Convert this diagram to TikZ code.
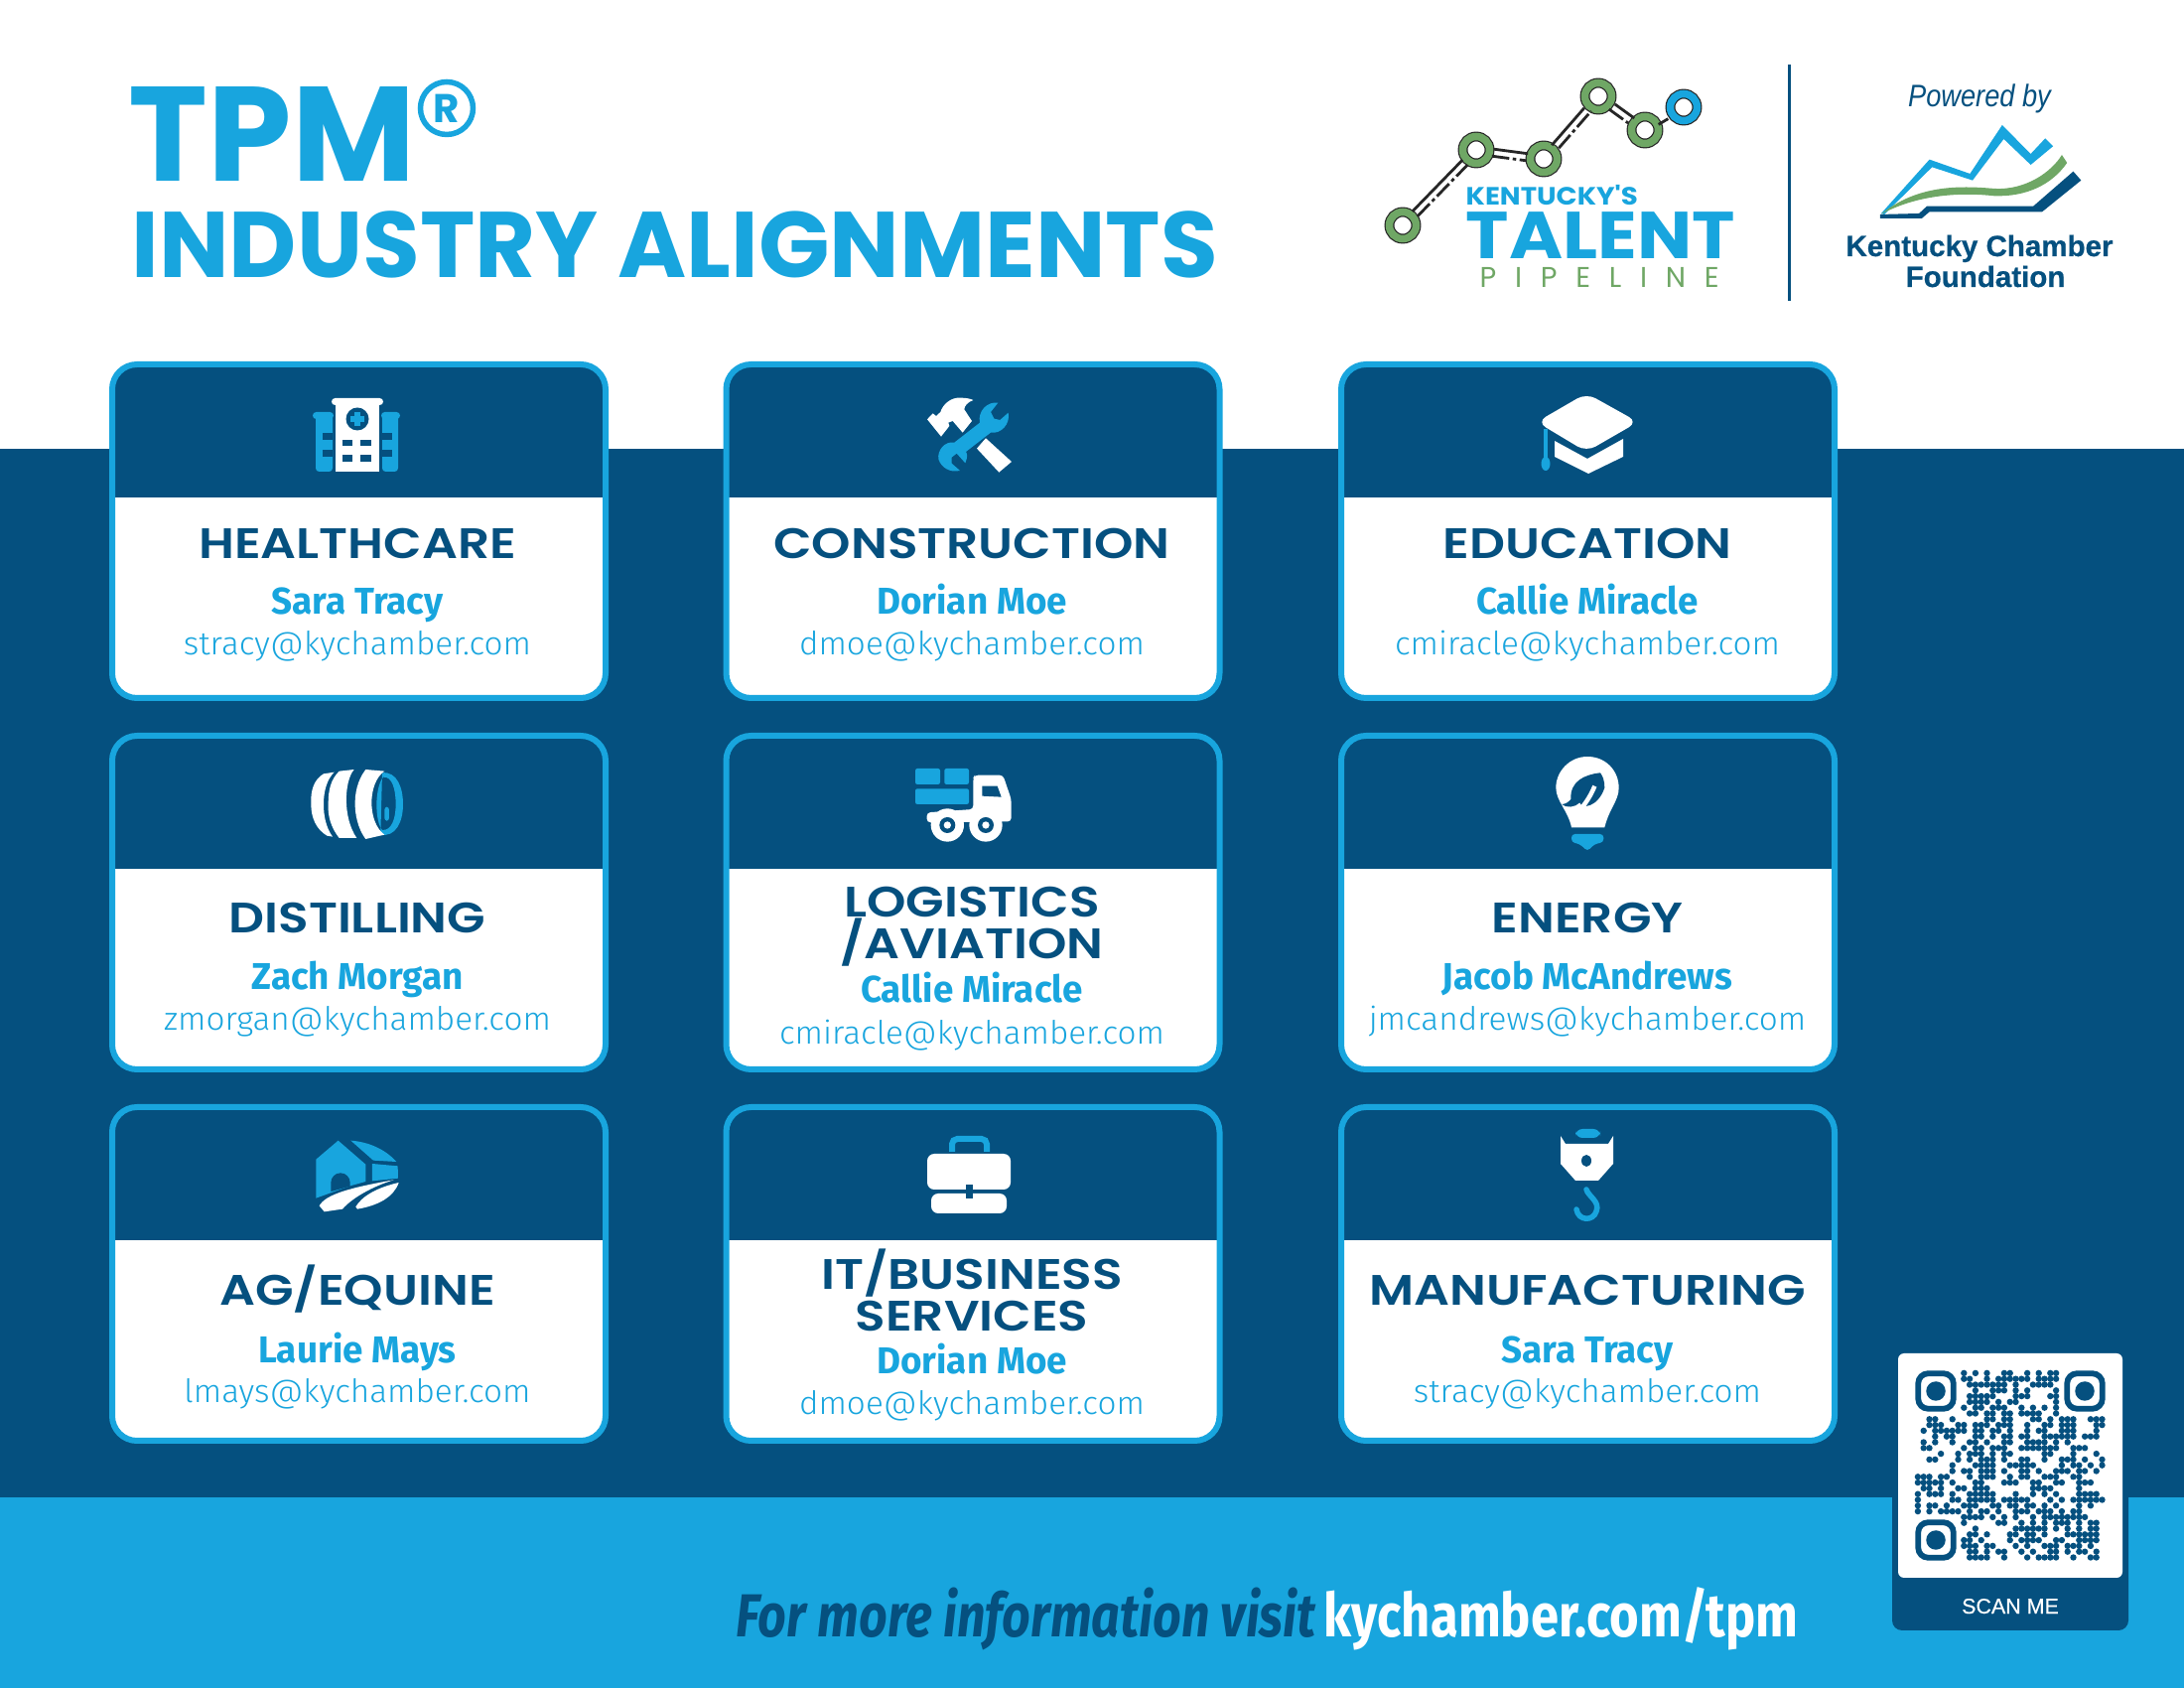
\documentclass[tikz,border=0pt]{standalone}
\usepackage{fontspec}
\setmainfont{Fira Sans}
\newfontfamily\headfont[FakeStretch=1.17]{Poppins SemiBold}
\newfontfamily\bigfont{Poppins}
\newfontfamily\logofont[FakeStretch=1.1]{Poppins}
\newfontfamily\namefont[FakeStretch=0.98]{Fira Sans}
\newfontfamily\mailfont[FakeStretch=1.03]{Fira Sans Light}
\newfontfamily\visitfont[FakeStretch=0.82]{Fira Sans}
\newfontfamily\sitefont[FakeStretch=0.83]{Fira Sans}
\newfontfamily\pipefont[LetterSpace=65]{Poppins}
\newfontfamily\arialfont{Liberation Sans}
\newfontfamily\poweredfont[FakeStretch=0.87]{Liberation Sans}
\newfontfamily\chamberfont[FakeBold=0.6]{Liberation Sans}
\newfontfamily\scanfont[FakeBold=0.3]{Liberation Sans}
\definecolor{navy}{HTML}{05507F}
\definecolor{sky}{HTML}{18A5DE}
\definecolor{leaf}{HTML}{6FA765}
\begin{document}
\begin{tikzpicture}[x=0.1mm,y=-0.1mm,
% common options for the cards:
card/.style = {draw=sky, line width=0.6mm, fill=white, rounded corners=2.5mm,
            minimum width=49.7mm, minimum height=33.6mm, inner sep=0, outer sep=0,
            path picture={\fill[navy,sharp corners] (path picture bounding box.north west)
            rectangle ([yshift=-13.4mm]path picture bounding box.north east);}},
% common options for the card texts:
sector/.style = {anchor=base, inner sep=0, text=navy, font=\headfont\fontsize{12.2}{12.2}\selectfont},
person/.style = {anchor=base, inner sep=0, text=sky, font=\namefont\bfseries\fontsize{10.7}{10.7}\selectfont},
mail/.style = {anchor=base, inner sep=0, text=sky, font=\mailfont\fontsize{9.2}{9.2}\selectfont},
% common options for the logo:
ring/.style = {circle, draw=black!85, line width=0.12mm, double=leaf, double distance=0.75mm,
            fill=white, minimum size=2.7mm, inner sep=0},
link/.style = {draw=black!85, line width=0.28mm, shorten <=1.7mm, shorten >=1.7mm},
linkb/.style = {link, dash pattern=on 5pt off 1pt on 1pt off 1pt},
finder/.style = {draw=navy, line width=0.58mm, rounded corners=1mm, fill=white,
            minimum size=3.55mm, inner sep=0, outer sep=0},
blob/.style = {circle, fill=navy, minimum size=1.95mm, inner sep=0}]
\useasboundingbox (0,0) rectangle (2200,1700);
% background bands
\fill[white] (0,0) rectangle (2200,452);
\fill[navy] (0,452) rectangle (2200,1508);
\fill[sky] (0,1508) rectangle (2200,1700);
% heading
\node[anchor=base west,inner sep=0,text=sky,font=\bigfont\bfseries\fontsize{38.5}{38.5}\selectfont] (tpm) at (129,183) {TPM};
\node[circle,draw=sky,line width=0.55mm,minimum size=5.3mm,inner sep=0,text=sky,font=\bigfont\bfseries\fontsize{11.5}{11.5}\selectfont] (reg) at (450,109) {R};
\node[anchor=base west,inner sep=0,text=sky,font=\bigfont\bfseries\fontsize{26.7}{26.7}\selectfont] (alignments) at (132,280) {INDUSTRY ALIGNMENTS};
% talent pipeline logo
\node[ring] (ringa) at (1413,227) {};
\node[ring] (ringb) at (1487,151) {};
\node[ring] (ringc) at (1555,160) {};
\node[ring] (ringd) at (1610,97) {};
\node[ring] (ringe) at (1657,131) {};
\node[ring,double=sky] (ringf) at (1696,108) {};
\draw[link] ([shift={(-2,-2)}]ringa.center) to ([shift={(-2,-2)}]ringb.center);
\draw[linkb] ([shift={(3,3)}]ringa.center) to ([shift={(3,3)}]ringb.center);
\draw[link] ([shift={(1,-3)}]ringb.center) to ([shift={(1,-3)}]ringc.center);
\draw[linkb] ([shift={(-1,4)}]ringb.center) to ([shift={(-1,4)}]ringc.center);
\draw[link] ([shift={(-3,-1)}]ringc.center) to ([shift={(-3,-1)}]ringd.center);
\draw[linkb] ([shift={(4,2)}]ringc.center) to ([shift={(4,2)}]ringd.center);
\draw[link] ([shift={(3,-2)}]ringd.center) to ([shift={(3,-2)}]ringe.center);
\draw[linkb] ([shift={(-3,3)}]ringd.center) to ([shift={(-3,3)}]ringe.center);
\draw[linkb] ([shift={(-1,3)}]ringe.center) to ([shift={(-1,3)}]ringf.center);
\node[anchor=base west,inner sep=0,text=sky,font=\logofont\bfseries\fontsize{7.16}{7.16}\selectfont] (kentucky) at (1476,207) {KENTUCKY'S};
\node[anchor=base west,inner sep=0,text=sky,font=\logofont\bfseries\fontsize{19}{19}\selectfont] (talent) at (1476,261) {TALENT};
\node[anchor=base west,inner sep=0,text=leaf,font=\pipefont\fontsize{8.2}{8.2}\selectfont] (pipeline) at (1490,290) {PIPELINE};
% divider
\coordinate (divtop) at (1802,65);
\coordinate (divbot) at (1802,303);
\draw[navy,line width=0.3mm] (divtop) to (divbot);
% chamber logo
\node[anchor=base,inner sep=0,text=navy,font=\poweredfont\itshape\fontsize{8.9}{8.9}\selectfont] (powered) at (1994,108) {Powered by};
\begin{scope}[shift={(1350,40)},xscale=0.523,yscale=0.3333]
\fill[sky] (1042,525) -- (1135,362) -- (1213,405) -- (1275,258) -- (1330,345) -- (1358,298) -- (1373,322) -- (1330,378) -- (1278,300) -- (1218,425) -- (1140,385) -- (1048,528) -- cycle;
\fill[leaf] (1042,527) .. controls (1110,440) and (1190,440) .. (1260,450) .. controls (1320,455) and (1370,400) .. (1390,348) -- (1400,372) .. controls (1370,440) and (1320,475) .. (1260,472) .. controls (1190,460) and (1110,470) .. (1042,527) -- cycle;
\fill[navy] (1040,528) -- (1115,525) -- (1130,503) -- (1335,503) -- (1412,398) -- (1427,425) -- (1352,520) -- (1135,520) -- (1120,540) -- (1040,540) -- cycle;
\end{scope}
\node[anchor=base,inner sep=0,text=navy,font=\chamberfont\bfseries\fontsize{8.4}{8.4}\selectfont] (chamber) at (1994,258) {Kentucky Chamber};
\node[anchor=base,inner sep=0,text=navy,font=\chamberfont\bfseries\fontsize{8.4}{8.4}\selectfont] (foundation) at (2000,289) {Foundation};
% cards
\node[card] (cardA) at (361.5,535) {};
\node[card] (cardB) at (980,535) {};
\node[card] (cardC) at (1599.5,535) {};
\node[card] (cardD) at (361.5,909) {};
\node[card] (cardE) at (980,909) {};
\node[card] (cardF) at (1599.5,909) {};
\node[card] (cardG) at (361.5,1283) {};
\node[card] (cardH) at (980,1283) {};
\node[card] (cardI) at (1599.5,1283) {};
\node[sector] (secA) at (360,562.5) {HEALTHCARE};
\node[person] (nameA) at (360,619) {Sara Tracy};
\node[mail] (mailA) at (360,660) {stracy@kychamber.com};
\node[sector] (secB) at (979,562.5) {CONSTRUCTION};
\node[person] (nameB) at (979,619) {Dorian Moe};
\node[mail] (mailB) at (979,660) {dmoe@kychamber.com};
\node[sector] (secC) at (1599,562.5) {EDUCATION};
\node[person] (nameC) at (1599,619) {Callie Miracle};
\node[mail] (mailC) at (1599,660) {cmiracle@kychamber.com};
\node[sector] (secD) at (360,940) {DISTILLING};
\node[person] (nameD) at (360,997) {Zach Morgan};
\node[mail] (mailD) at (360,1038) {zmorgan@kychamber.com};
\node[sector] (secE1) at (979,924) {LOGISTICS};
\node[sector] (secE2) at (979,966) {/AVIATION};
\node[person] (nameE) at (979,1010) {Callie Miracle};
\node[mail] (mailE) at (979,1052) {cmiracle@kychamber.com};
\node[sector] (secF) at (1599,940) {ENERGY};
\node[person] (nameF) at (1599,997) {Jacob McAndrews};
\node[mail] (mailF) at (1599,1038) {jmcandrews@kychamber.com};
\node[sector] (secG) at (360,1315) {AG/EQUINE};
\node[person] (nameG) at (360,1373) {Laurie Mays};
\node[mail] (mailG) at (360,1413) {lmays@kychamber.com};
\node[sector] (secH1) at (979,1299) {IT/BUSINESS};
\node[sector] (secH2) at (979,1341) {SERVICES};
\node[person] (nameH) at (979,1384) {Dorian Moe};
\node[mail] (mailH) at (979,1425) {dmoe@kychamber.com};
\node[sector] (secI) at (1599,1315) {MANUFACTURING};
\node[person] (nameI) at (1599,1373) {Sara Tracy};
\node[mail] (mailI) at (1599,1413) {stracy@kychamber.com};
% hospital icon
\fill[sky,rounded corners=1pt] (318,418) rectangle (335,475);
\fill[sky,rounded corners=1pt] (385,418) rectangle (401,475);
\fill[sky,rounded corners=1pt] (315,415) rectangle (336,422);
\fill[sky,rounded corners=1pt] (384,415) rectangle (403,422);
\fill[navy] (325,436) rectangle (335,443);
\fill[navy] (325,453) rectangle (335,460);
\fill[navy] (385,436) rectangle (395,443);
\fill[navy] (385,453) rectangle (395,460);
\fill[white] (338,405) rectangle (382,475);
\fill[white,rounded corners=1pt] (334,401) rectangle (386,408);
\fill[navy] (360,422) circle (11.5);
\fill[sky] (357,415) rectangle (363,429);
\fill[sky] (353,419) rectangle (367,425);
\fill[navy] (345,443) rectangle (355,449);
\fill[navy] (363,443) rectangle (374,449);
\fill[navy] (345,458) rectangle (355,465);
\fill[navy] (363,458) rectangle (374,465);
% tools icon
\begin{scope}[shift={(918,379)},scale=0.3333]
\fill[white] (48,130) -- (65,112) -- (75,120) -- (88,108) .. controls (95,85) and (120,62) .. (150,65) .. controls (165,65) and (180,68) .. (187,72) .. controls (170,78) and (160,90) .. (160,100) -- (183,135) -- (155,170) -- (125,135) -- (112,140) -- (115,150) -- (90,182) -- cycle;
\fill[white] (225,187) -- (303,258) -- (265,290) -- (198,218) -- cycle;
\fill[sky] (262,80) .. controls (230,75) and (200,105) .. (207,140) -- (130,200) .. controls (100,195) and (78,225) .. (82,250) .. controls (90,275) and (115,292) .. (147,285) -- (122,263) -- (122,245) -- (137,233) -- (163,262) .. controls (170,245) and (170,235) .. (165,228) -- (240,170) .. controls (270,175) and (300,145) .. (293,110) -- (268,132) -- (250,128) -- (240,108) -- cycle;
\end{scope}
% cap icon
\fill[white,rounded corners=3pt] (1598,396) -- (1650,425) -- (1598,455) -- (1548,425) -- cycle;
\fill[white] (1566,444) -- (1599,462) -- (1635,442) -- (1635,460) -- (1600,477) -- (1566,460) -- cycle;
\fill[sky] (1555,432) rectangle (1559,462);
\fill[sky] (1557,467) ellipse (4.5 and 7);
% barrel icon
\begin{scope}[shift={(300,750)},scale=0.3333]
\fill[sky,even odd rule] (255,85) .. controls (300,80) and (318,130) .. (318,180) .. controls (318,235) and (295,280) .. (250,272) -- cycle (258,98) .. controls (232,130) and (232,230) .. (255,258) .. controls (285,260) and (296,220) .. (296,180) .. controls (296,135) and (285,95) .. (258,98) -- cycle;
\fill[sky,rounded corners=0.8pt] (262,188) rectangle (276,230);
\fill[white] (78,88) .. controls (48,105) and (38,140) .. (40,180) .. controls (40,220) and (55,255) .. (88,275) -- (105,278) .. controls (85,250) and (78,215) .. (78,180) .. controls (78,140) and (88,105) .. (110,83) -- cycle;
\fill[white] (125,80) -- (170,75) .. controls (140,110) and (135,220) .. (178,282) -- (125,282) .. controls (100,250) and (90,215) .. (92,180) .. controls (92,135) and (100,105) .. (125,80) -- cycle;
\fill[white] (205,75) -- (262,80) .. controls (210,115) and (210,235) .. (262,272) -- (205,285) .. controls (170,240) and (155,140) .. (205,75) -- cycle;
\end{scope}
% truck icon
\begin{scope}[shift={(912,750)},scale=0.3333]
\fill[sky,rounded corners=0.6pt] (30,72) rectangle (105,120);
\fill[sky,rounded corners=0.6pt] (118,72) rectangle (192,120);
\fill[sky,rounded corners=0.6pt] (30,133) rectangle (192,180);
\fill[white,rounded corners=1pt] (205,100) -- (210,92) -- (295,92) -- (320,165) -- (320,232) -- (65,235) -- (65,205) -- (205,195) -- cycle;
\fill[navy] (232,125) -- (278,125) -- (290,158) -- (232,155) -- cycle;
\fill[white] (127,243) circle (50);
\fill[white] (243,243) circle (50);
\fill[navy] (127,243) circle (24);
\fill[navy] (243,243) circle (24);
\fill[white] (127,243) circle (11);
\fill[white] (243,243) circle (11);
\end{scope}
% bulb icon
\begin{scope}[shift={(1538,750)},scale=0.3333]
\fill[sky,rounded corners=1pt] (135,270) -- (232,270) -- (232,295) -- (205,300) -- (183,322) -- (160,300) -- (135,295) -- cycle;
\fill[white] (183,36) .. controls (240,36) and (278,80) .. (278,130) .. controls (278,170) and (250,190) .. (235,250) -- (135,250) .. controls (125,200) and (88,170) .. (88,130) .. controls (88,80) and (130,36) .. (183,36) -- cycle;
\fill[navy] (222,85) .. controls (175,90) and (130,110) .. (133,165) .. controls (125,175) and (115,180) .. (105,180) .. controls (120,192) and (145,190) .. (160,175) .. controls (165,195) and (215,190) .. (235,130) .. controls (235,110) and (230,95) .. (222,85) -- cycle;
\draw[white,line width=0.45mm] (205,125) .. controls (195,150) and (180,175) .. (160,198);
\end{scope}
% farm icon
\begin{scope}[shift={(300,1126)},scale=0.3333]
\fill[sky] (55,125) -- (122,68) -- (205,140) -- (205,192) -- (158,205) -- (55,242) -- cycle;
\fill[navy] (100,222) -- (100,195) arc (180:360:29) -- (158,206) -- cycle;
\fill[sky] (160,68) .. controls (215,72) and (265,95) .. (298,132) -- (228,128) -- cycle;
\fill[sky] (225,138) -- (302,145) -- (303,182) -- (225,190) -- cycle;
\fill[white] (65,265) .. controls (85,230) and (160,210) .. (290,187) .. controls (230,205) and (165,240) .. (135,275) -- (80,283) -- cycle;
\fill[white] (305,195) .. controls (240,210) and (195,235) .. (175,268) -- (180,275) .. controls (240,265) and (290,240) .. (305,195) -- cycle;
\end{scope}
% briefcase icon
\draw[sky,line width=0.6mm,rounded corners=1.5pt] (959,1160) -- (959,1147) -- (994,1147) -- (994,1160);
\fill[white,rounded corners=2pt] (934,1162) rectangle (1018,1198);
\fill[white,rounded corners=2pt] (938,1202) rectangle (1014,1222);
\fill[navy] (973,1193) rectangle (980,1207);
% hook icon
\fill[sky,rounded corners=2pt] (1587,1137) rectangle (1612,1146);
\fill[white] (1572,1144) -- (1577,1152) -- (1620,1152) -- (1625,1144) -- (1625,1172) -- (1610,1189) -- (1587,1189) -- (1572,1172) -- cycle;
\fill[navy] (1598,1169) ellipse (5 and 6);
\draw[sky,line width=0.55mm,line cap=round] (1598,1198) .. controls (1600,1205) and (1612,1210) .. (1608,1220) .. controls (1605,1230) and (1590,1230) .. (1588,1218);
% qr code
\node[fill=navy,rounded corners=1mm,minimum width=23.8mm,minimum height=28.5mm,inner sep=0] (qrframe) at (2025,1499.5) {};
\node[fill=white,rounded corners=0.6mm,minimum size=22.6mm,inner sep=0] (qrpaper) at (2025,1476) {};
\node[finder] (finderA) at (1950,1401) {};
\node[finder] (finderB) at (2100,1401) {};
\node[finder] (finderC) at (1950,1551) {};
\node[blob] (blobA) at (finderA) {};
\node[blob] (blobB) at (finderB) {};
\node[blob] (blobC) at (finderC) {};
\foreach \r/\cols in {0/{8,10,12,15,16,19,21,23,24},
  1/{8,9,12,14,15,16,17,18,19,21,22,23,24},
  2/{9,10,11,12,13,14,15,17,20,21,22,23},
  3/{10,13,14,15,17,19,24},
  4/{9,10,11,12,13,17,18,19,23,24},
  5/{9,10,11,12,14,16,17,24},
  6/{8,10,11,13,14,15,18,20,22,24},
  7/{9,10,12,13,15,16,18,19,20,21,24},
  8/{2,3,6,12,13,15,16,20,21,23,25,26,27,30,31,32},
  9/{2,3,4,7,8,10,11,12,14,15,16,19,22,23,25,26,27,31,32},
  10/{1,3,4,5,6,7,8,10,11,13,14,16,19,21,22,25,26,27,31},
  11/{3,5,6,10,11,13,15,16,18,19,22,23,24,25,26,27,29,30,31},
  12/{1,3,6,9,10,12,15,16,19,20,21,22,24,26},
  13/{1,2,8,10,11,13,14,15,18,19,20,21,22,23,24,27,28,29},
  14/{4,7,9,10,11,13,15,16,22,23,27,31},
  15/{2,3,7,9,11,12,13,15,18,19,22,25,26,27,29,32},
  16/{6,10,11,12,13,16,17,18,19,20,25,27,28,30,32},
  17/{6,8,9,11,12,13,15,18,19,21,24,25,26,28,29,31},
  18/{0,1,2,4,5,9,11,12,13,16,18,19,22,23,24,27,28},
  19/{0,1,2,3,4,6,10,11,15,16,17,20,21,24,25,28,29,30},
  20/{1,2,4,7,8,10,11,12,20,21,22,23,28},
  21/{0,2,3,4,6,9,10,11,12,13,17,20,22,24,28,29,30,31},
  22/{0,6,7,9,10,11,12,13,15,16,17,18,19,23,25,27,28,29,30,31,32},
  23/{0,2,3,5,8,9,10,13,14,16,17,19,20,22,24,28,30},
  24/{0,2,4,5,6,7,9,11,12,14,17,18,19,21,22,23,25,27,28},
  25/{8,9,10,11,13,15,17,20,22,23,24,25,26,27,28,29},
  26/{8,14,15,18,20,22,24,25,26,28,30,31},
  27/{10,17,18,19,20,21,22,24,26,28,30,31},
  28/{9,10,12,16,17,19,20,22,26,27,28,29,30,31},
  29/{8,9,11,16,18,19,20,21,24,25,28,29,30,31},
  30/{8,9,10,12,13,17,19,22,23,24,26,27,28,30},
  31/{9,10,12,14,15,18,20,23,24,26,28,29,31},
  32/{9,10,11,12,15,19,21,22,23,24,27,30,31}}
  \foreach \c in \cols
    \fill[navy] ({1929+5.8*(\c+0.5)},{1380+5.8*(\r+0.5)}) circle (3.2);
\node[anchor=base,inner sep=0,text=white,font=\scanfont\fontsize{6.1}{6.1}\selectfont] (scan) at (2025,1625) {SCAN ME};
% footer text
\node[anchor=base west,inner sep=0,text=navy,font=\visitfont\bfseries\itshape\fontsize{17.4}{17.4}\selectfont] (visit) at (741,1648) {For more information visit};
\node[anchor=base west,inner sep=0,text=white,font=\sitefont\bfseries\fontsize{17.4}{17.4}\selectfont] (site) at (1333,1648) {kychamber.com/tpm};
\end{tikzpicture}
\end{document}
